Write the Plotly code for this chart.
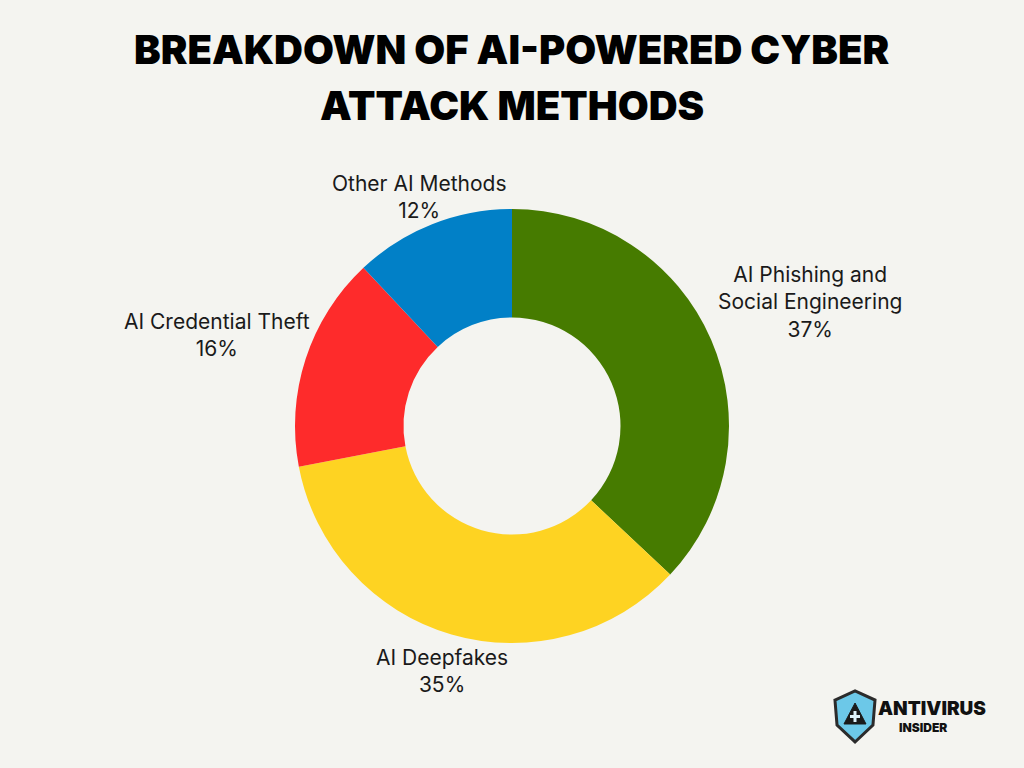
import math
import plotly.graph_objects as go

categories = ["AI Phishing and Social Engineering", "AI Deepfakes", "AI Credential Theft", "Other AI Methods"]
display_names = ["AI Phishing and<br>Social Engineering", "AI Deepfakes", "AI Credential Theft", "Other AI Methods"]
values = [37, 35, 16, 12]
colors = ["#467b00", "#fed322", "#fe2b2b", "#0180c7"]

title_lines = ["BREAKDOWN OF AI-POWERED CYBER", "ATTACK METHODS"]

W, H = 1024, 768
CX, CY, R = 512, 426, 217
LABEL_FS = 21
GAP = 222


def px(x):
    return x / W


def py(y):
    return 1 - y / H


fig = go.Figure()
fig.add_trace(go.Pie(
    labels=categories,
    values=values,
    textinfo="none",
    hole=0.5,
    sort=False,
    direction="clockwise",
    rotation=0,
    marker=dict(colors=colors, line=dict(width=0)),
    showlegend=False,
    hoverinfo="label+percent",
    domain=dict(x=[px(CX - R), px(CX + R)], y=[py(CY + R), py(CY - R)]),
))

# outside labels placed at each slice's mid-angle
total = sum(values)
cum = 0
for name, v in zip(display_names, values):
    mid = (cum + v / 2) / total * 2 * math.pi
    cum += v
    ux, uy = math.sin(mid), -math.cos(mid)
    lines = name.split("<br>") + [f"{v}%"]
    w = max(len(s) for s in lines) * LABEL_FS * 0.52
    h = len(lines) * LABEL_FS * 1.3
    d = min((w / 2) / abs(ux) if abs(ux) > 1e-6 else 1e9,
            (h / 2) / abs(uy) if abs(uy) > 1e-6 else 1e9)
    r = GAP + d
    fig.add_annotation(
        text=f"{name}<br>{v}%", xref="paper", yref="paper",
        x=px(CX + r * ux), y=py(CY + r * uy + 5), xanchor="center", yanchor="middle",
        showarrow=False, align="center",
        font=dict(family="Inter", size=LABEL_FS, color="#1a1a1a"),
    )

for line, yc in zip(title_lines, [49, 105]):
    fig.add_annotation(
        text=line, xref="paper", yref="paper", x=0.5, y=py(yc),
        xanchor="center", yanchor="middle", showarrow=False, align="center",
        font=dict(family="Inter", size=40, color="#000000", weight=900),
    )

# logo
shield = [(835, 700), (855, 691), (875, 700), (873, 725), (855, 742), (837, 725)]
path = "M " + " L ".join(f"{px(x):.4f},{py(y):.4f}" for x, y in shield) + " Z"
fig.add_shape(type="path", xref="paper", yref="paper", path=path,
              fillcolor="#6cc8e8", line=dict(color="#2b2b2b", width=3))
tri = [(855, 703), (866, 724), (844, 724)]
path2 = "M " + " L ".join(f"{px(x):.4f},{py(y):.4f}" for x, y in tri) + " Z"
fig.add_shape(type="path", xref="paper", yref="paper", path=path2,
              fillcolor="#1a1a1a", line=dict(color="#1a1a1a", width=1))
fig.add_shape(type="rect", xref="paper", yref="paper",
              x0=px(853.5), x1=px(856.5), y0=py(722), y1=py(711),
              fillcolor="#dff3fb", line=dict(width=0))
fig.add_shape(type="rect", xref="paper", yref="paper",
              x0=px(850), x1=px(860), y0=py(718), y1=py(715),
              fillcolor="#dff3fb", line=dict(width=0))
fig.add_annotation(text="ANTIVIRUS", xref="paper", yref="paper", x=px(932), y=py(708),
                   showarrow=False, xanchor="center", yanchor="middle",
                   font=dict(family="Inter", size=19, color="#111111", weight=900))
fig.add_annotation(text="INSIDER", xref="paper", yref="paper", x=px(923), y=py(727),
                   showarrow=False, xanchor="center", yanchor="middle",
                   font=dict(family="Inter", size=12, color="#111111", weight=900))

fig.update_layout(
    width=W, height=H,
    margin=dict(l=0, r=0, t=0, b=0),
    paper_bgcolor="#f4f4f0",
    plot_bgcolor="#f4f4f0",
)

fig.write_html(
    "out.html",
    config={"displayModeBar": False},
    post_script="document.body.style.margin='0';document.body.style.overflow='hidden';",
)
